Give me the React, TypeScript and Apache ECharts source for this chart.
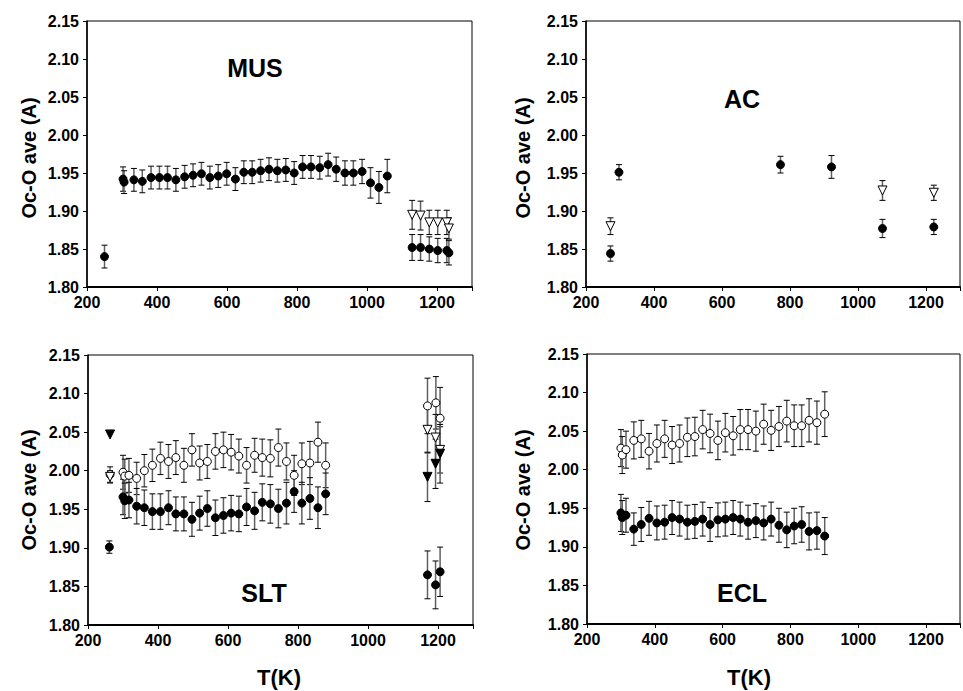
import React, { useEffect, useRef } from 'react';
import * as echarts from 'echarts';

// ---------- MUS ----------
const musFilledT = [250, 303, 306, 334, 358, 383, 407, 430, 454, 479, 503, 527, 551, 575, 599, 624, 648, 672, 696, 720, 744, 768, 792, 816, 840, 865, 889, 912, 937, 961, 986, 1010, 1034, 1058, 1129, 1153, 1178, 1202, 1228, 1234];
const musFilledV = [1.840, 1.942, 1.938, 1.941, 1.939, 1.944, 1.944, 1.944, 1.941, 1.945, 1.947, 1.949, 1.944, 1.946, 1.949, 1.942, 1.951, 1.951, 1.953, 1.955, 1.953, 1.954, 1.950, 1.958, 1.958, 1.957, 1.961, 1.955, 1.950, 1.950, 1.952, 1.937, 1.931, 1.946, 1.852, 1.852, 1.850, 1.848, 1.848, 1.845];
const musFilledE = [0.015, 0.016, 0.015, 0.015, 0.015, 0.015, 0.015, 0.015, 0.015, 0.015, 0.015, 0.015, 0.015, 0.015, 0.015, 0.015, 0.015, 0.015, 0.015, 0.015, 0.015, 0.015, 0.015, 0.015, 0.015, 0.015, 0.015, 0.016, 0.016, 0.016, 0.016, 0.020, 0.021, 0.022, 0.017, 0.017, 0.016, 0.016, 0.016, 0.016];
const musTriT = [1129, 1153, 1178, 1202, 1228, 1234];
const musTriV = [1.895, 1.894, 1.885, 1.885, 1.885, 1.877];
const musTriE = [0.019, 0.019, 0.016, 0.016, 0.016, 0.014];

// ---------- AC ----------
const acFilledT = [272, 297, 772, 922, 1072, 1223];
const acFilledV = [1.844, 1.951, 1.961, 1.958, 1.877, 1.879];
const acFilledE = [0.010, 0.010, 0.011, 0.015, 0.012, 0.010];
const acTriT = [272, 1072, 1223];
const acTriV = [1.880, 1.927, 1.924];
const acTriE = [0.011, 0.013, 0.010];

// ---------- SLT ----------
const sltOpenT = [263, 300, 305, 317, 339, 361, 384, 407, 430, 451, 474, 497, 519, 541, 564, 587, 609, 631, 653, 676, 698, 721, 744, 767, 789, 811, 834, 857, 879, 1170, 1194, 1206];
const sltOpenV = [1.995, 1.998, 1.993, 1.994, 1.990, 2.000, 2.007, 2.016, 2.012, 2.017, 2.007, 2.027, 2.010, 2.012, 2.025, 2.027, 2.024, 2.019, 2.007, 2.020, 2.017, 2.016, 2.030, 2.012, 1.994, 2.009, 2.010, 2.037, 2.007, 2.084, 2.088, 2.068];
const sltOpenE = [0.010, 0.022, 0.022, 0.022, 0.021, 0.021, 0.021, 0.021, 0.022, 0.022, 0.022, 0.021, 0.022, 0.022, 0.023, 0.023, 0.023, 0.022, 0.023, 0.022, 0.024, 0.024, 0.024, 0.024, 0.026, 0.027, 0.028, 0.026, 0.029, 0.036, 0.034, 0.040];
const sltFilledT = [261, 300, 305, 317, 339, 361, 384, 407, 430, 451, 474, 497, 519, 541, 564, 587, 609, 631, 653, 676, 698, 721, 744, 767, 789, 811, 834, 857, 879, 1170, 1193, 1206];
const sltFilledV = [1.901, 1.966, 1.961, 1.962, 1.954, 1.952, 1.947, 1.947, 1.952, 1.944, 1.944, 1.937, 1.945, 1.951, 1.939, 1.942, 1.945, 1.944, 1.953, 1.948, 1.959, 1.957, 1.951, 1.958, 1.973, 1.958, 1.964, 1.952, 1.970, 1.865, 1.852, 1.869];
const sltFilledE = [0.008, 0.023, 0.023, 0.023, 0.023, 0.023, 0.023, 0.023, 0.022, 0.022, 0.022, 0.022, 0.022, 0.023, 0.023, 0.023, 0.023, 0.023, 0.024, 0.024, 0.024, 0.025, 0.025, 0.027, 0.027, 0.027, 0.027, 0.027, 0.027, 0.031, 0.031, 0.032];
const sltTriT = [263, 1170, 1193, 1206];
const sltTriV = [1.992, 2.053, 2.043, 2.027];
const sltTriE = [0.008, 0.030, 0.030, 0.030];
const sltFilledTriT = [263, 1170, 1193, 1206];
const sltFilledTriV = [2.047, 1.992, 2.009, 2.022];
const sltFilledTriE = [0, 0.032, 0.032, 0.038];

// ---------- ECL ----------
const eclT = [300, 304, 315, 338, 360, 383, 406, 429, 451, 473, 496, 518, 541, 563, 586, 608, 631, 652, 675, 698, 721, 743, 766, 789, 811, 833, 855, 878, 901];
const eclOpenV = [2.028, 2.019, 2.026, 2.038, 2.040, 2.024, 2.034, 2.040, 2.032, 2.034, 2.042, 2.043, 2.052, 2.047, 2.038, 2.048, 2.044, 2.052, 2.052, 2.050, 2.059, 2.051, 2.056, 2.063, 2.057, 2.057, 2.064, 2.061, 2.072];
const eclOpenE = [0.024, 0.024, 0.024, 0.024, 0.024, 0.023, 0.024, 0.024, 0.024, 0.024, 0.025, 0.025, 0.025, 0.025, 0.025, 0.025, 0.025, 0.026, 0.026, 0.026, 0.026, 0.026, 0.026, 0.027, 0.027, 0.027, 0.028, 0.028, 0.029];
const eclFilledV = [1.944, 1.938, 1.941, 1.923, 1.929, 1.937, 1.931, 1.932, 1.938, 1.936, 1.932, 1.933, 1.936, 1.929, 1.935, 1.936, 1.938, 1.936, 1.932, 1.934, 1.931, 1.936, 1.928, 1.922, 1.927, 1.929, 1.920, 1.921, 1.914];
const eclFilledE = [0.024, 0.022, 0.022, 0.021, 0.022, 0.022, 0.022, 0.022, 0.022, 0.022, 0.022, 0.022, 0.022, 0.022, 0.022, 0.022, 0.022, 0.022, 0.022, 0.022, 0.022, 0.022, 0.022, 0.023, 0.023, 0.023, 0.024, 0.024, 0.024];

// ---------- axes / labels ----------
const xMin = 200;
const xMax = 1300;
const xStep = 200;
const yMin = 1.8;
const yMax = 2.15;
const yStep = 0.05;
const panelTitles = ['MUS', 'AC', 'SLT', 'ECL'];
const yTitle = 'Oc-O ave (A)';
const xTitle = 'T(K)';

const FONT = '"Liberation Sans", Arial, Helvetica, sans-serif';

type Kind = 'filled' | 'open' | 'openTri' | 'filledTri';

function errSeries(g: number, T: number[], V: number[], E: number[]) {
  return {
    type: 'custom',
    xAxisIndex: g,
    yAxisIndex: g,
    z: 2,
    silent: true,
    encode: { x: 0, y: [1, 2] },
    data: T.map((t, i) => [t, V[i] - E[i], V[i] + E[i]]).filter((d, i) => E[i] > 0),
    renderItem: (params: any, api: any) => {
      const x = api.value(0);
      const top = api.coord([x, api.value(2)]);
      const bot = api.coord([x, api.value(1)]);
      const w = 3;
      return {
        type: 'group',
        children: [
          { type: 'line', shape: { x1: top[0], y1: top[1], x2: bot[0], y2: bot[1] }, style: { stroke: '#606060', lineWidth: 1.5 } },
          { type: 'line', shape: { x1: top[0] - w, y1: top[1], x2: top[0] + w, y2: top[1] }, style: { stroke: '#000', lineWidth: 1 } },
          { type: 'line', shape: { x1: bot[0] - w, y1: bot[1], x2: bot[0] + w, y2: bot[1] }, style: { stroke: '#000', lineWidth: 1 } },
        ],
      };
    },
  };
}

function markSeries(g: number, T: number[], V: number[], kind: Kind) {
  const tri = kind === 'openTri' || kind === 'filledTri';
  const filled = kind === 'filled' || kind === 'filledTri';
  return {
    type: 'scatter',
    xAxisIndex: g,
    yAxisIndex: g,
    z: 3,
    silent: true,
    clip: false,
    symbol: tri ? 'triangle' : 'circle',
    symbolRotate: tri ? 180 : 0,
    symbolSize: tri ? 9 : 8,
    itemStyle: { color: filled ? '#000' : '#fff', borderColor: '#000', borderWidth: 1, opacity: 1 },
    data: T.map((t, i) => [t, V[i]]),
  };
}

const grids = [
  { left: 87, top: 21, width: 385, height: 266 },
  { left: 586, top: 21, width: 385, height: 266 },
  { left: 88, top: 355, width: 385, height: 270 },
  { left: 587, top: 354, width: 385, height: 270 },
];

export default function App() {
  const ref = useRef<HTMLDivElement>(null);
  useEffect(() => {
    if (!ref.current) return;
    const chart = echarts.init(ref.current, undefined, { renderer: 'svg' });
    const series: any[] = [
      errSeries(0, musFilledT, musFilledV, musFilledE),
      errSeries(0, musTriT, musTriV, musTriE),
      errSeries(1, acFilledT, acFilledV, acFilledE),
      errSeries(1, acTriT, acTriV, acTriE),
      errSeries(2, sltOpenT, sltOpenV, sltOpenE),
      errSeries(2, sltFilledT, sltFilledV, sltFilledE),
      errSeries(2, sltTriT, sltTriV, sltTriE),
      errSeries(2, sltFilledTriT, sltFilledTriV, sltFilledTriE),
      errSeries(3, eclT, eclOpenV, eclOpenE),
      errSeries(3, eclT, eclFilledV, eclFilledE),
      markSeries(0, musFilledT, musFilledV, 'filled'),
      markSeries(0, musTriT, musTriV, 'openTri'),
      markSeries(1, acFilledT, acFilledV, 'filled'),
      markSeries(1, acTriT, acTriV, 'openTri'),
      markSeries(2, sltFilledT, sltFilledV, 'filled'),
      markSeries(2, sltOpenT, sltOpenV, 'open'),
      markSeries(2, sltTriT, sltTriV, 'openTri'),
      markSeries(2, sltFilledTriT, sltFilledTriV, 'filledTri'),
      markSeries(3, eclT, eclOpenV, 'open'),
      markSeries(3, eclT, eclFilledV, 'filled'),
    ];
    const textStyle = (size: number) => ({ fontSize: size, fontWeight: 'bold', fontFamily: FONT, fill: '#000', align: 'center', verticalAlign: 'middle', textAlign: 'center', textVerticalAlign: 'middle' });
    const titlePos = [[255, 68], [742, 99], [264, 593], [742, 593]];
    const yTitlePos = [[29, 158], [523, 158], [29, 490], [523, 490]];
    const xTitlePos = [[279, 677], [749, 677]];
    const graphic: any[] = [];
    panelTitles.forEach((t, i) => graphic.push({ type: 'text', x: titlePos[i][0], y: titlePos[i][1], z: 10, style: { text: t, ...textStyle(25) } }));
    yTitlePos.forEach((p) => graphic.push({ type: 'text', x: p[0], y: p[1], rotation: Math.PI / 2, z: 10, style: { text: yTitle, ...textStyle(20) } }));
    xTitlePos.forEach((p) => graphic.push({ type: 'text', x: p[0], y: p[1], z: 10, style: { text: xTitle, ...textStyle(22) } }));

    chart.setOption({
      animation: false,
      backgroundColor: '#fff',
      grid: grids.map((g) => ({ ...g, show: true, borderColor: '#000', borderWidth: 1, backgroundColor: 'transparent', containLabel: false })),
      xAxis: grids.map((_, i) => ({
        type: 'value',
        gridIndex: i,
        min: xMin,
        max: xMax,
        interval: xStep,
        axisLine: { show: true, onZero: false, lineStyle: { color: '#000', width: 2 } },
        axisTick: { show: true, inside: false, length: 4, lineStyle: { color: '#000', width: 1 } },
        axisLabel: {
          show: true,
          margin: 7,
          color: '#000',
          fontSize: 16,
          fontWeight: 'bold',
          fontFamily: FONT,
          formatter: (v: number) => (v % 200 === 0 && v <= 1200 ? String(v) : ''),
        },
        splitLine: { show: false },
      })),
      yAxis: grids.map((_, i) => ({
        type: 'value',
        gridIndex: i,
        min: yMin,
        max: yMax,
        interval: yStep,
        axisLine: { show: true, onZero: false, lineStyle: { color: '#000', width: 1.5 } },
        axisTick: { show: true, inside: false, length: 4, lineStyle: { color: '#000', width: 1 } },
        axisLabel: {
          show: true,
          margin: 8,
          color: '#000',
          fontSize: 16,
          fontWeight: 'bold',
          fontFamily: FONT,
          formatter: (v: number) => v.toFixed(2),
        },
        splitLine: { show: false },
      })),
      series,
      graphic,
    });
    return () => chart.dispose();
  }, []);
  return <div ref={ref} style={{ position: 'absolute', left: 0, top: 0, width: 963, height: 691 }} />;
}
